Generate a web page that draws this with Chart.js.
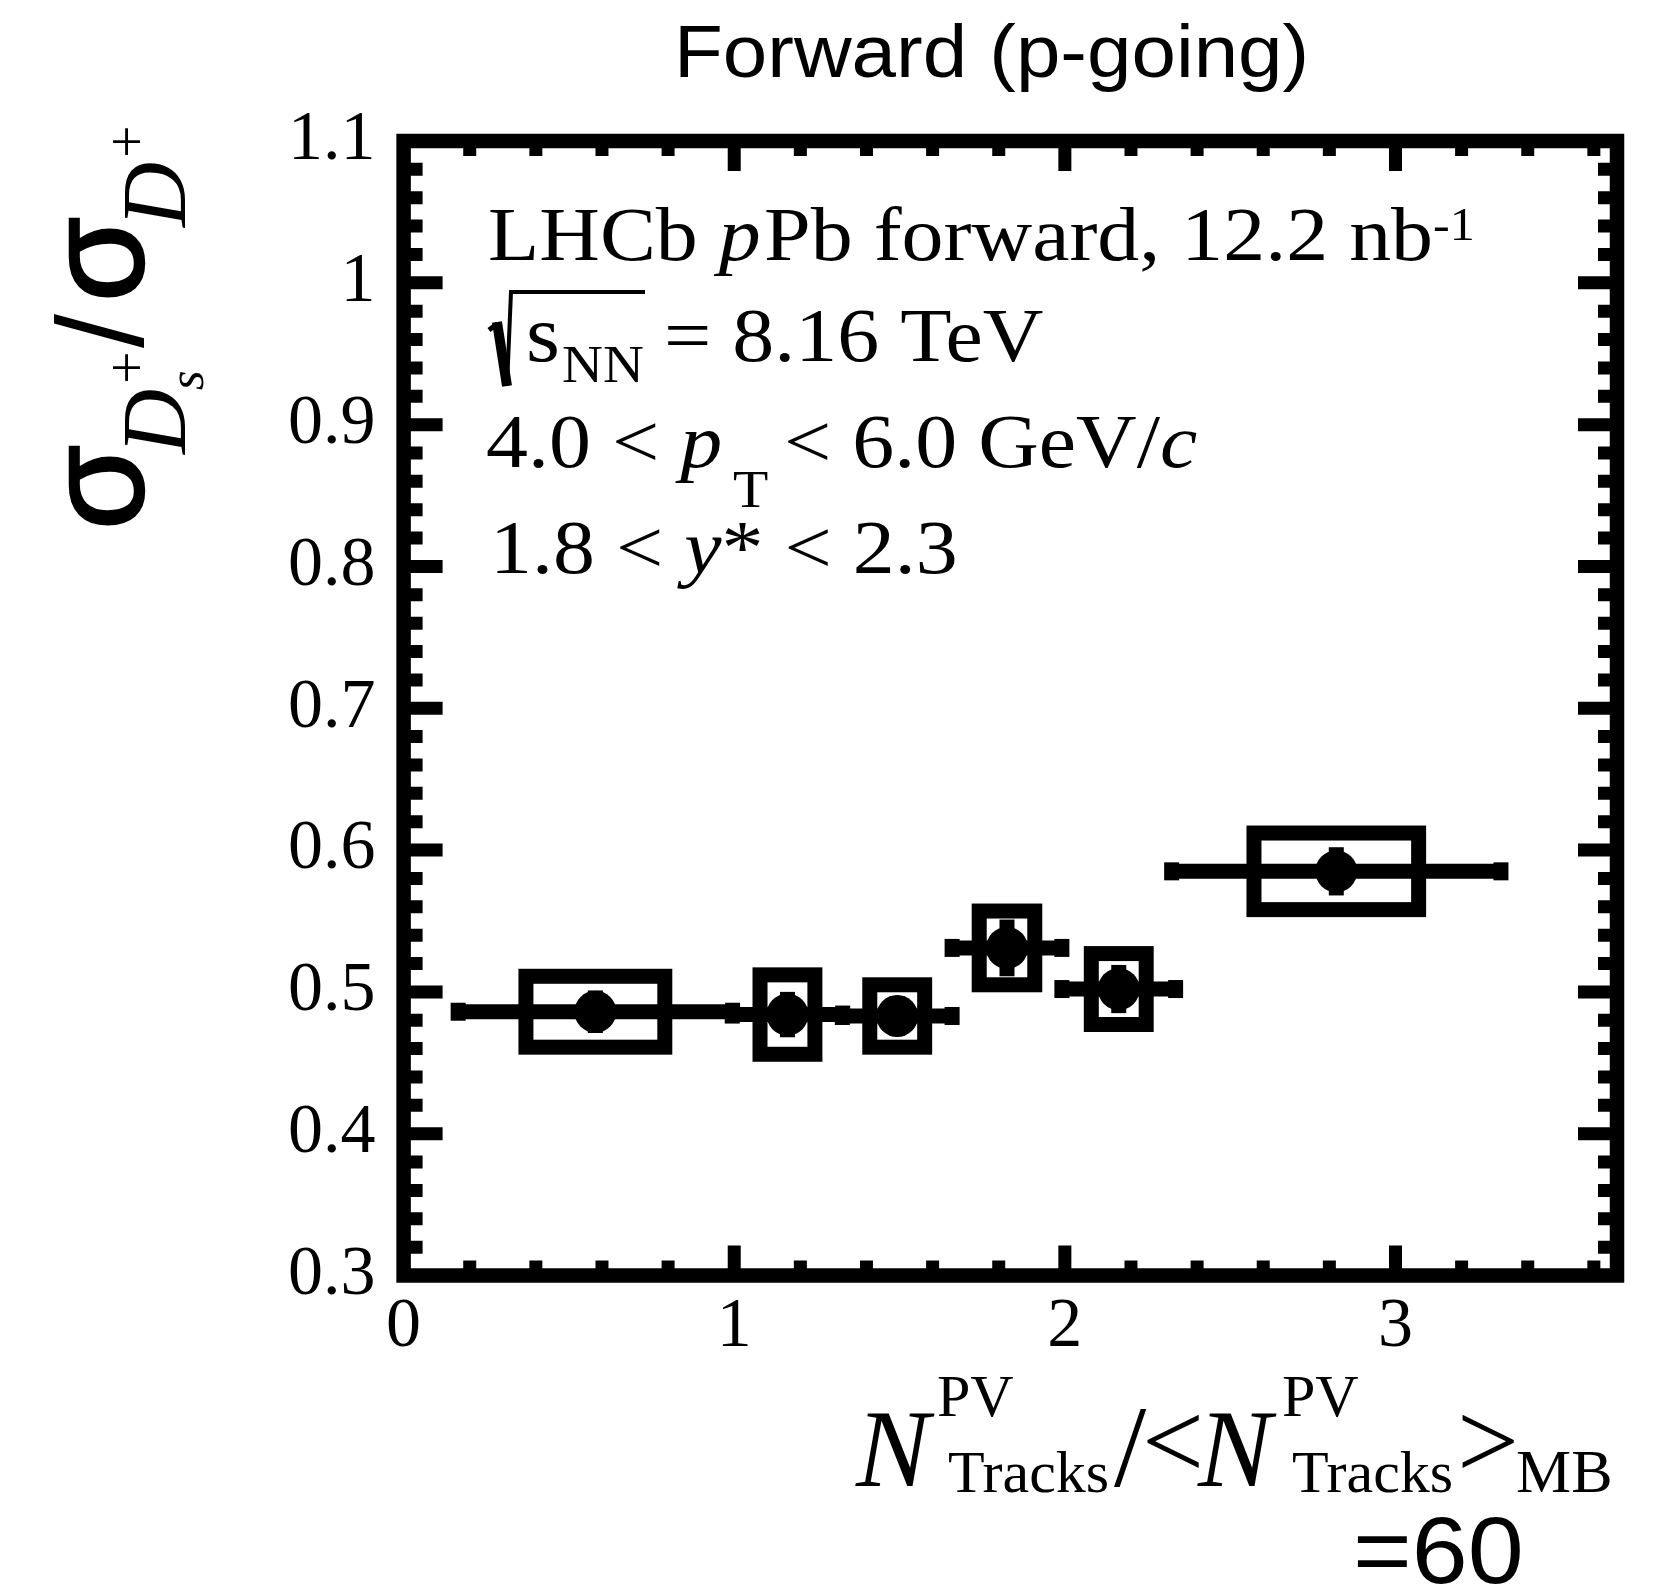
<!DOCTYPE html>
<html>
<head>
<meta charset="utf-8">
<script src="https://cdn.jsdelivr.net/npm/chart.js@4/dist/chart.umd.min.js"></script>
<style>
  html, body { margin: 0; padding: 0; background: #fff; }
  canvas { display: block; }
</style>
</head>
<body>
<canvas id="grafico" width="1665" height="1591"></canvas>
<script>
// multiplicity bins (N_tracks / <N_tracks>_MB)
const xCenters = [0.580, 1.161, 1.493, 1.825, 2.163, 2.821];
const binHalfWidths = [0.415, 0.167, 0.166, 0.166, 0.172, 0.498];
// sigma(Ds+)/sigma(D+)
const ratios = [0.486, 0.484, 0.483, 0.531, 0.502, 0.585];
const statErr = [0.015, 0.016, 0.014, 0.020, 0.017, 0.017];
const sysErr = [0.025, 0.028, 0.022, 0.026, 0.025, 0.027];
const boxHalfWidths = [0.210, 0.083, 0.083, 0.084, 0.083, 0.249];

const xTickValues = [0, 1, 2, 3];
const xTickLabels = ["0", "1", "2", "3"];
const yTickValues = [0.3, 0.4, 0.5, 0.6, 0.7, 0.8, 0.9, 1.0, 1.1];
const yTickLabels = ["0.3", "0.4", "0.5", "0.6", "0.7", "0.8", "0.9", "1", "1.1"];

const SERIF = "'Liberation Serif', 'Times New Roman', serif";
const SANS = "'Liberation Sans', Arial, sans-serif";

// draw a run of text pieces
function drawPieces(ctx, x0, y0, stretch, pieces) {
    ctx.save();
    ctx.translate(x0, y0);
    ctx.scale(stretch, 1);
    ctx.fillStyle = "#000";
    ctx.textBaseline = "alphabetic";
    ctx.textAlign = "left";
    let cx = 0;
    pieces.forEach(p => {
        ctx.font = p.font;
        if (p.x !== undefined) cx = p.x / stretch;
        ctx.fillText(p.t, cx, p.dy || 0);
        cx += ctx.measureText(p.t).width + (p.gap || 0);
    });
    ctx.restore();
}

const errorBoxes = {
    id: "errorBoxes",
    beforeDatasetsDraw(chart) {
        const ctx = chart.ctx;
        const xs = chart.scales.x, ys = chart.scales.y;
        ctx.save();
        ctx.strokeStyle = "#000";
        ctx.fillStyle = "#000";
        ctx.lineCap = "butt";
        for (let i = 0; i < xCenters.length; i++) {
            const xc = xs.getPixelForValue(xCenters[i]);
            const yc = ys.getPixelForValue(ratios[i]);
            // systematic box
            const bx1 = xs.getPixelForValue(xCenters[i] - boxHalfWidths[i]);
            const bx2 = xs.getPixelForValue(xCenters[i] + boxHalfWidths[i]);
            const by1 = ys.getPixelForValue(ratios[i] + sysErr[i]);
            const by2 = ys.getPixelForValue(ratios[i] - sysErr[i]);
            ctx.lineWidth = 15;
            ctx.strokeRect(bx1, by1, bx2 - bx1, by2 - by1);
            // horizontal bin bar
            const hx1 = xs.getPixelForValue(xCenters[i] - binHalfWidths[i]);
            const hx2 = xs.getPixelForValue(xCenters[i] + binHalfWidths[i]);
            ctx.beginPath();
            ctx.moveTo(hx1, yc);
            ctx.lineTo(hx2, yc);
            ctx.stroke();
            ctx.fillRect(hx1 - 7.5, yc - 9, 15, 18);
            ctx.fillRect(hx2 - 7.5, yc - 9, 15, 18);
            // stat error
            const sy1 = ys.getPixelForValue(ratios[i] + statErr[i]);
            const sy2 = ys.getPixelForValue(ratios[i] - statErr[i]);
            ctx.beginPath();
            ctx.moveTo(xc, sy1);
            ctx.lineTo(xc, sy2);
            ctx.stroke();
        }
        ctx.restore();
    }
};

const rootFrame = {
    id: "rootFrame",
    afterDraw(chart) {
        const ctx = chart.ctx;
        const a = chart.chartArea;
        const xs = chart.scales.x, ys = chart.scales.y;
        ctx.save();
        ctx.fillStyle = "#000";
        ctx.strokeStyle = "#000";
        ctx.lineCap = "butt";
        // ticks
        ctx.lineWidth = 13;
        ctx.beginPath();
        for (let k = 0; k <= 40; k++) {
            const v = 0.3 + k * 0.02;
            const y = ys.getPixelForValue(v);
            const len = (k % 5 === 0) ? 39 : 19;
            ctx.moveTo(a.left, y); ctx.lineTo(a.left + len, y);
            ctx.moveTo(a.right, y); ctx.lineTo(a.right - len, y);
        }
        for (let k = 0; k * 0.2 <= xs.max + 1e-9; k++) {
            const v = k * 0.2;
            const x = xs.getPixelForValue(v);
            const len = (k % 5 === 0) ? 30 : 15;
            ctx.moveTo(x, a.bottom); ctx.lineTo(x, a.bottom - len);
            ctx.moveTo(x, a.top); ctx.lineTo(x, a.top + len);
        }
        ctx.stroke();
        // frame
        ctx.lineWidth = 14.5;
        ctx.lineJoin = "miter";
        ctx.strokeRect(a.left, a.top, a.right - a.left, a.bottom - a.top);

        // title
        drawPieces(ctx, 992 - 318, 77, 1.08, [
            { t: "Forward (p-going)", font: "74px " + SANS }
        ]);

        // annotations
        const big = "77px " + SERIF, bigI = "italic 77px " + SERIF;
        drawPieces(ctx, 488, 260, 1.09, [
            { t: "LHCb ", font: big },
            { t: "p", font: bigI, gap: 3 },
            { t: "Pb forward, 12.2 nb", font: big },
            { t: "-1", font: "46px " + SERIF, dy: -20 }
        ]);
        // sqrt sign
        ctx.lineWidth = 5;
        ctx.beginPath();
        ctx.moveTo(489, 330); ctx.lineTo(497, 324);
        ctx.stroke();
        ctx.lineWidth = 10;
        ctx.beginPath();
        ctx.moveTo(497, 322); ctx.lineTo(507, 386);
        ctx.stroke();
        ctx.lineWidth = 4;
        ctx.beginPath();
        ctx.moveTo(507, 386); ctx.lineTo(511, 292); ctx.lineTo(645, 292);
        ctx.stroke();
        drawPieces(ctx, 0, 361, 1.09, [
            { t: "s", font: "80px " + SERIF, x: 526 },
            { t: "NN", font: "52px " + SERIF, x: 562, dy: 21 },
            { t: "= 8.16 TeV", font: big, x: 664 }
        ]);
        drawPieces(ctx, 0, 467, 1.09, [
            { t: "4.0 < ", font: big, x: 486 },
            { t: "p", font: bigI },
            { t: "T", font: "53px " + SERIF, x: 733, dy: 40 },
            { t: "< 6.0 GeV/", font: big, x: 784 },
            { t: "c", font: bigI }
        ]);
        drawPieces(ctx, 0, 573, 1.09, [
            { t: "1.8 < ", font: big, x: 490 },
            { t: "y", font: bigI },
            { t: "* < 2.3", font: big }
        ]);

        // y axis title (rotated)
        ctx.save();
        ctx.translate(143, 530);
        ctx.rotate(-Math.PI / 2);
        ctx.fillStyle = "#000";
        ctx.strokeStyle = "#000";
        ctx.textBaseline = "alphabetic";
        const sig = "138px " + SANS;
        const pl = [
            ["\u03c3", sig, 0, 0, 2.5],
            ["D", "italic 90px " + SERIF, 76, 42, 0],
            ["s", "italic 50px " + SERIF, 140, 60, 0],
            ["+", "58px " + SERIF, 146, 3, 0],
            ["/", "122px " + SANS, 182, 0, 0],
            ["\u03c3", sig, 228, 0, 2.5],
            ["D", "italic 90px " + SERIF, 303, 42, 0],
            ["+", "58px " + SERIF, 372, 3, 0]
        ];
        pl.forEach(p => {
            ctx.font = p[1];
            ctx.fillText(p[0], p[2], p[3]);
            if (p[4]) { ctx.lineWidth = p[4]; ctx.strokeText(p[0], p[2], p[3]); }
        });
        ctx.restore();

        // x axis title
        const N = "italic 110px " + SERIF, sub = "60px " + SERIF, rel = "110px " + SERIF;
        drawPieces(ctx, 0, 0, 1, [
            { t: "N", font: N, x: 856, dy: 1486 },
            { t: "PV", font: sub, x: 937, dy: 1416 },
            { t: "Tracks", font: sub, x: 948, dy: 1492 },
            { t: "/", font: "116px " + SERIF, x: 1114, dy: 1486 },
            { t: "<", font: rel, x: 1142, dy: 1478 },
            { t: "N", font: N, x: 1198, dy: 1486 },
            { t: "PV", font: sub, x: 1282, dy: 1416 },
            { t: "Tracks", font: sub, x: 1292, dy: 1492 },
            { t: ">", font: rel, x: 1457, dy: 1478 },
            { t: "MB", font: "62px " + SERIF, x: 1516, dy: 1492 }
        ]);
        drawPieces(ctx, 1353, 1583, 1.06, [
            { t: "=60", font: "95px " + SANS }
        ]);
        ctx.restore();
    }
};

const ctx = document.getElementById("grafico");

new Chart(ctx, {
    type: "scatter",
    data: {
        datasets: [{
            label: "ratio",
            data: xCenters.map((x, i) => ({ x: x, y: ratios[i] })),
            pointRadius: 21,
            pointHoverRadius: 21,
            pointBackgroundColor: "#000",
            pointBorderWidth: 0,
            borderColor: "#000"
        }]
    },
    options: {
        responsive: false,
        devicePixelRatio: 1,
        animation: false,
        events: [],
        layout: { padding: { left: 0, right: 48, top: 141, bottom: 0 } },
        plugins: {
            legend: { display: false },
            tooltip: { enabled: false }
        },
        scales: {
            x: {
                type: "linear",
                min: 0,
                max: 3.67,
                grid: { display: false, drawTicks: false },
                border: { display: false },
                afterBuildTicks: s => { s.ticks = xTickValues.map(v => ({ value: v })); },
                afterFit: s => { s.height = 315.5; },
                ticks: {
                    autoSkip: false,
                    maxRotation: 0,
                    padding: 10,
                    color: "#000",
                    font: { family: SERIF, size: 70 },
                    callback: (v, i) => xTickLabels[i]
                }
            },
            y: {
                type: "linear",
                min: 0.3,
                max: 1.1,
                grid: { display: false, drawTicks: false },
                border: { display: false },
                afterBuildTicks: s => { s.ticks = yTickValues.map(v => ({ value: v })); },
                afterFit: s => { s.width = 403.6; },
                ticks: {
                    autoSkip: false,
                    padding: 28,
                    color: "#000",
                    font: { family: SERIF, size: 70 },
                    callback: (v, i) => yTickLabels[i]
                }
            }
        }
    },
    plugins: [errorBoxes, rootFrame]
});
</script>
</body>
</html>
